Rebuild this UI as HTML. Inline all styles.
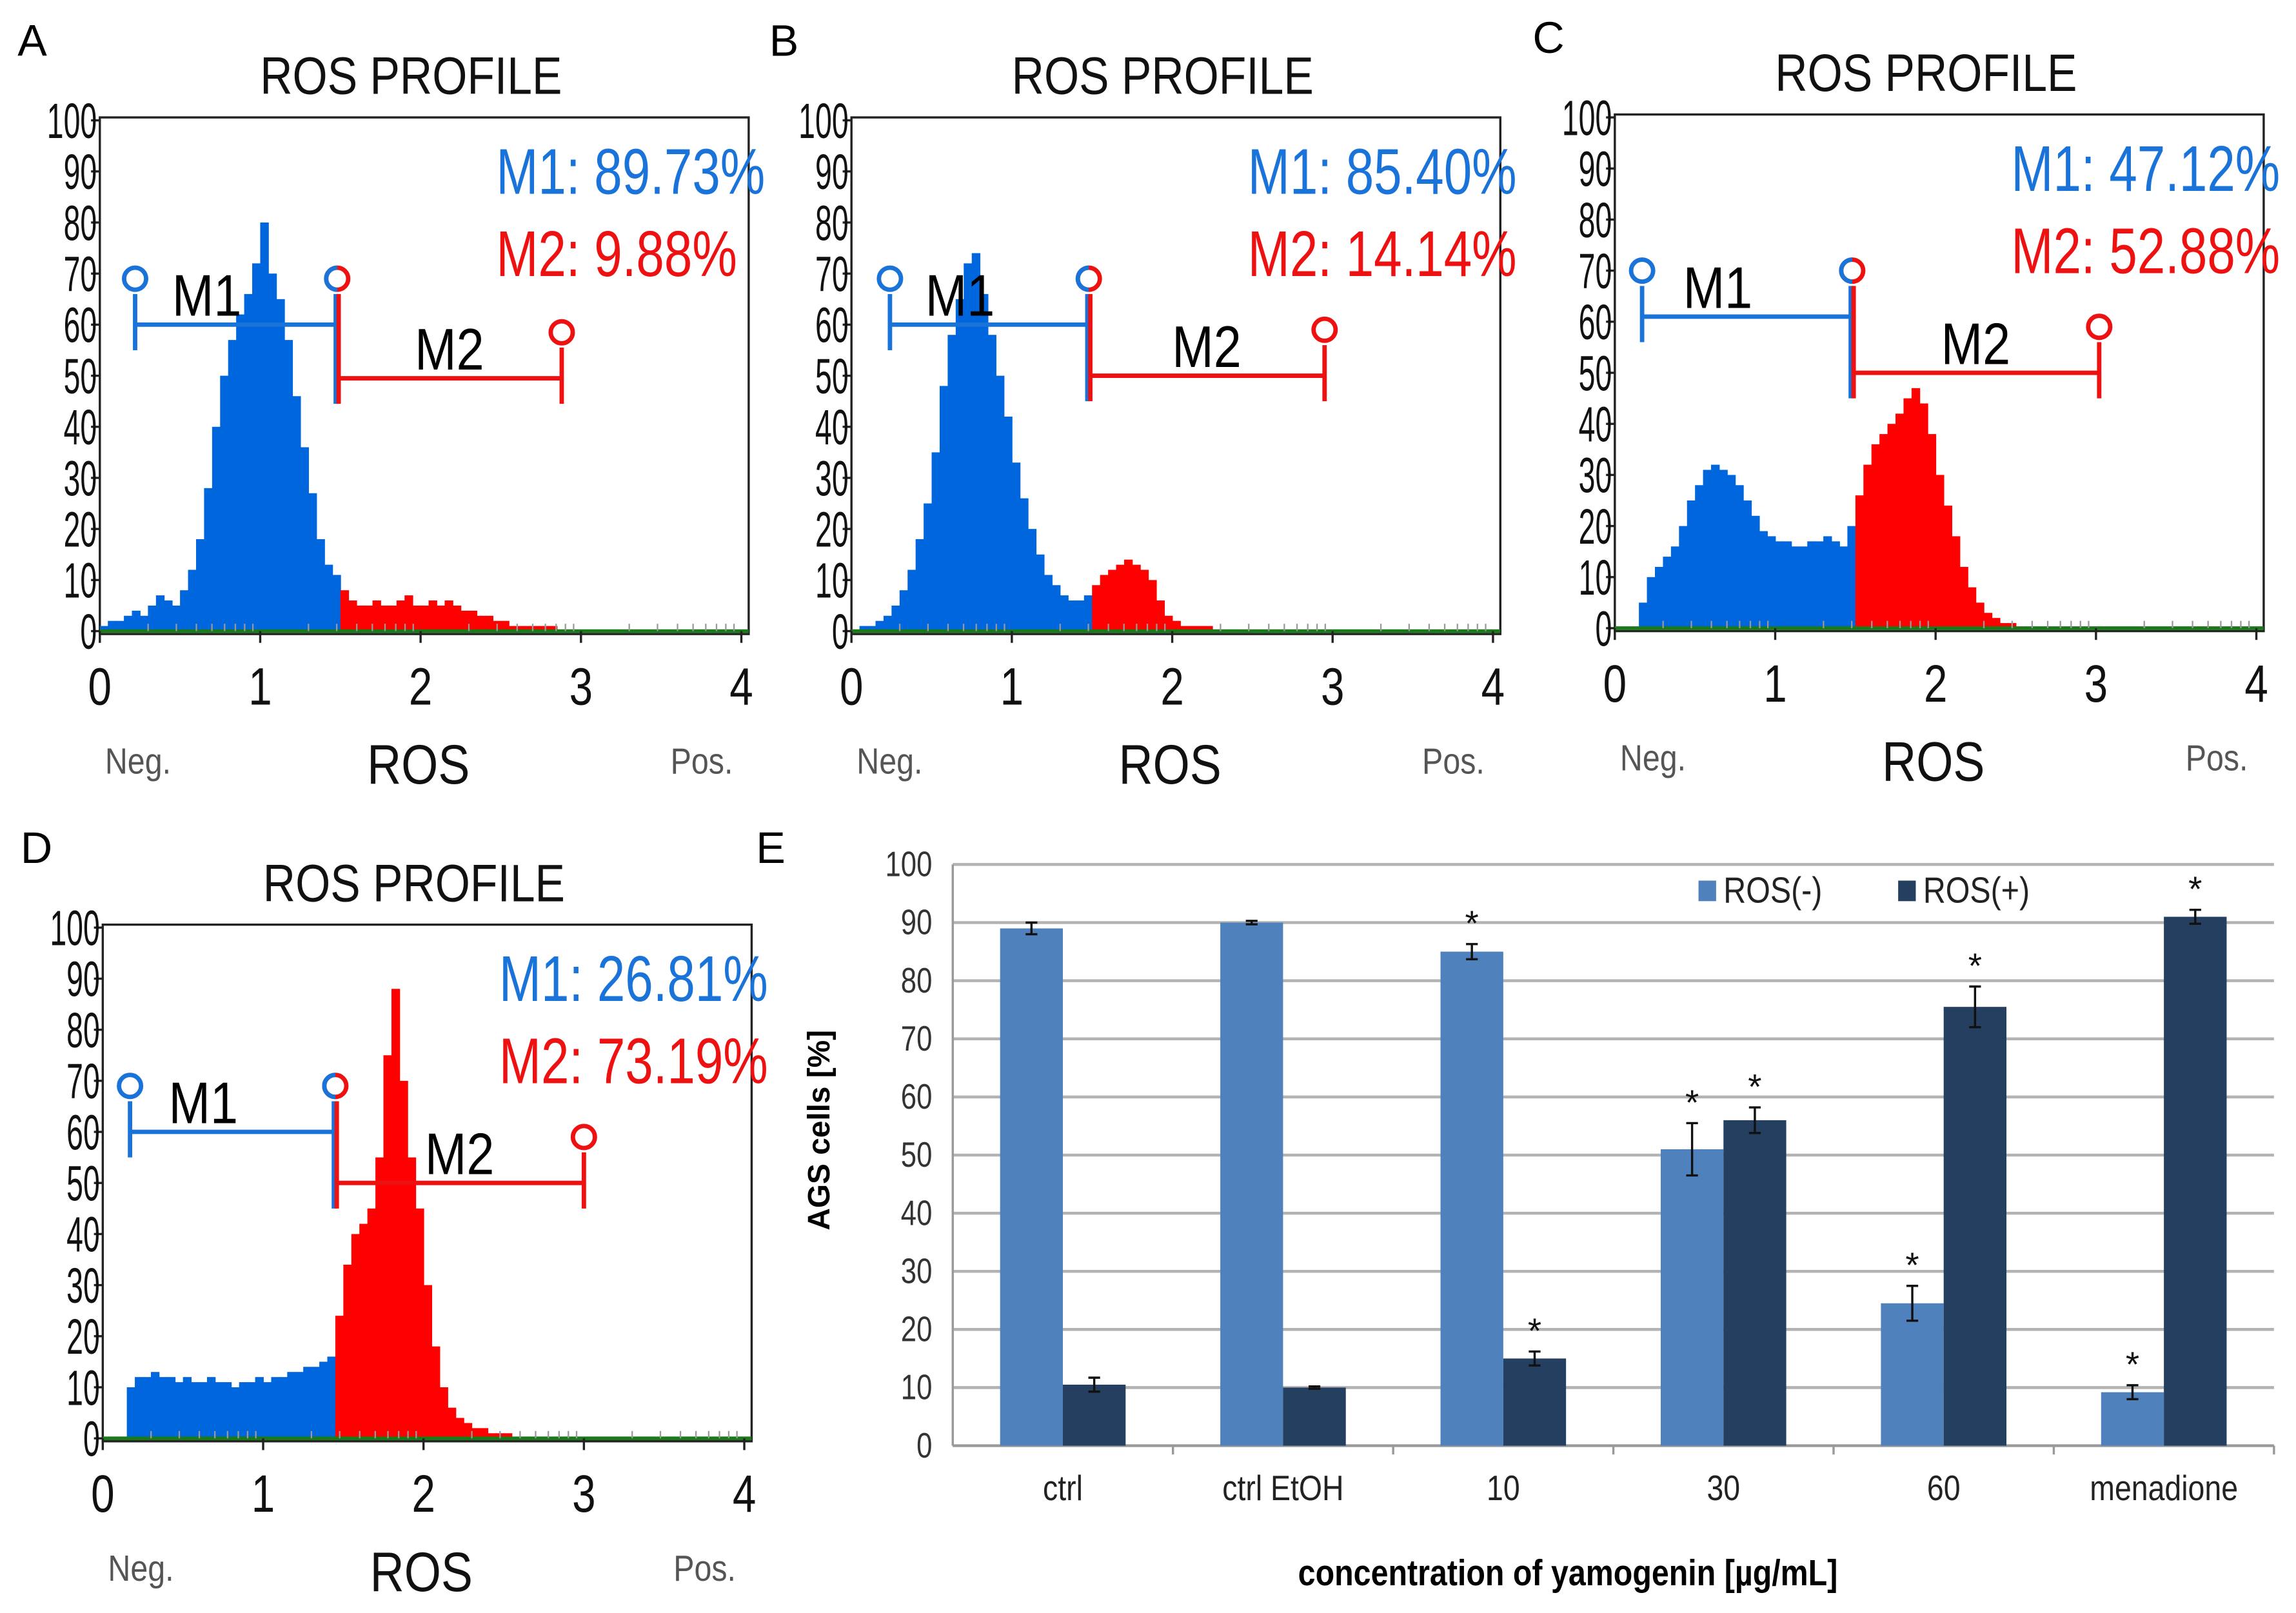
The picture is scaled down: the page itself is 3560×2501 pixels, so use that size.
<!DOCTYPE html>
<html><head><meta charset="utf-8">
<style>
html,body{margin:0;padding:0;background:#fff;}
svg{display:block;}
text{font-family:"Liberation Sans",sans-serif;}
.b{font-family:"Liberation Sans",sans-serif;font-weight:bold;}
</style></head>
<body>
<svg id="fig" xmlns="http://www.w3.org/2000/svg" width="3560" height="2501" viewBox="0 0 1564 1099" preserveAspectRatio="none"></svg>
<script>
// ---------- Histogram data (bin width 0.05, from 0 to 3.0) ----------
const histA = [1,2,2,3,4,3, 5,7,6,5,8,12, 18,28,40,50,57,62, 66,72,80,70,65,57, 46,36,27,18,13,11, 8,6,5,5,6,5, 5,6,7,5,5,6, 5,6,5,4,4,3, 3,2,2,1,1,1, 1,1,1,0,0,0];
const histB = [0,1,1,2,3,5, 8,12,18,25,35,48, 58,65,72,74,66,58, 50,42,33,26,20,15, 11,9,7,6,6,7, 9,11,12,13,14,13, 12,10,6,3,2,1, 1,1,1,0,0,0, 0,0,0,0,0,0, 0,0,0,0,0,0];
const histC = [0,0,0,5,10,12, 14,16,20,25,28,31, 32,31,30,28,25,22, 19,18,17,17,16,16, 17,17,18,17,16,20, 26,32,36,38,40,42, 45,47,44,38,30,24, 18,12,8,5,3,2, 1,1,0,0,0,0, 0,0,0,0,0,0];
const histD = [0,0,0,10,12,12, 13,12,12,11,12,11, 11,12,11,11,10,11, 11,12,11,12,12,13, 13,14,14,15,16,24, 34,40,42,45,55,75, 88,70,55,45,30,18, 10,6,4,3,2,2, 1,1,1,0,0,0, 0,0,0,0,0,0];
const gateM1 = [[0.22,1.48,60],[0.24,1.48,60],[0.17,1.48,61],[0.17,1.45,60]];
const gateM2 = [[1.48,2.88,49.5],[1.48,2.95,50],[1.48,3.02,50],[1.45,3.0,50]];
const pctM1 = ["89.73%","85.40%","47.12%","26.81%"];
const pctM2 = ["9.88%","14.14%","52.88%","73.19%"];
const histTicksY = [0,10,20,30,40,50,60,70,80,90,100];
const histTicksX = [0,1,2,3,4];

// ---------- Bar chart data ----------
const categories = ["ctrl","ctrl EtOH","10","30","60","menadione"];
const rosNeg = [89,90,85,51,24.5,9.2];
const rosNegErr = [1,0.3,1.3,4.5,3,1.2];
const rosPos = [10.5,10,15,56,75.5,91];
const rosPosErr = [1.2,0.2,1.2,2.2,3.5,1.2];
const starNeg = [false,false,true,true,true,true];
const starPos = [false,false,true,true,true,true];
const barTicksY = [0,10,20,30,40,50,60,70,80,90,100];

const NS="http://www.w3.org/2000/svg";
const svg=document.getElementById('fig');
function el(tag,attrs,parent,txt){const e=document.createElementNS(NS,tag);for(const k in attrs)e.setAttribute(k,attrs[k]);if(txt!==undefined)e.textContent=txt;(parent||svg).appendChild(e);return e;}
// narrow text: compressed horizontally
function nt(x,y,sc,attrs,parent,txt){const a=Object.assign({x:0,y:0,transform:'translate('+x+','+y+') scale('+sc+',1)'},attrs);return el('text',a,parent,txt);}

const panels=[
 {L:"A",x0:68,y0:430,yTop:82,hist:histA},
 {L:"B",x0:580,y0:430,yTop:82,hist:histB},
 {L:"C",x0:1100,y0:428,yTop:80,hist:histC},
 {L:"D",x0:70,y0:980,yTop:632,hist:histD}
];
const W=437;
panels.forEach((p,pi)=>{
  const g=el('g',{});
  
  
  const sx=v=>p.x0+v*W/4;
  const sy=v=>p.y0-(v/100)*(p.y0-p.yTop);
  const lt=el('text',{x:p.x0-56,y:p.yTop-44,'font-size':30,fill:'#000'},g,p.L);
  
  const tt=nt(p.x0+212,p.yTop-18,0.85,{'font-size':36,'text-anchor':'middle',fill:'#111'},g,"ROS PROFILE");
  
  const bx=el('rect',{x:p.x0,y:p.yTop-2,width:W+5,height:p.y0-p.yTop+4,fill:'none',stroke:'#222','stroke-width':1.5},g);
  
  const gate=gateM1[pi][1];
  p.hist.forEach((v,i)=>{
    if(v<=0)return;
    const a=i*0.05,b=a+0.05,c=a+0.025;
    const r=el('rect',{x:sx(a),y:sy(v),width:sx(b)-sx(a)+0.4,height:sy(0)-sy(v),fill:c<gate?'#0066dd':'#ff0000'},g);
    
  });
  el('line',{x1:p.x0,x2:p.x0+W+5,y1:p.y0,y2:p.y0,stroke:'#1a7a1a','stroke-width':2.5},g);
  histTicksY.forEach(t=>{
    el('line',{x1:p.x0-6,x2:p.x0,y1:sy(t),y2:sy(t),stroke:'#222','stroke-width':1.5},g);
    const tx=nt(p.x0-2,sy(t)+12,0.6,{'font-size':34,'text-anchor':'end',fill:'#111'},g,String(t));
    
  });
  histTicksX.forEach(t=>{
    el('line',{x1:sx(t),x2:sx(t),y1:p.y0,y2:p.y0+8,stroke:'#222','stroke-width':1.5},g);
    const tx=nt(sx(t),p.y0+50,0.8,{'font-size':36,'text-anchor':'middle',fill:'#111'},g,String(t));
    
    if(t<4)for(let k=2;k<10;k++){const xv=t+Math.log10(k);el('line',{x1:sx(xv),x2:sx(xv),y1:p.y0,y2:p.y0-5,stroke:'#999','stroke-width':1},g);}
  });
  const ng=nt(p.x0+26,p.y0+97,0.85,{'font-size':25,'text-anchor':'middle',fill:'#555'},g,"Neg.");
  
  const ps=nt(p.x0+410,p.y0+97,0.85,{'font-size':25,'text-anchor':'middle',fill:'#555'},g,"Pos.");
  
  const xl=nt(p.x0+217,p.y0+104,0.85,{'font-size':38,'text-anchor':'middle',fill:'#111'},g,"ROS");
  
  // gates
  const m1=gateM1[pi], m2=gateM2[pi];
  const g1=el('g',{},g);
  
  el('line',{x1:sx(m1[0]),x2:sx(m1[1]),y1:sy(m1[2]),y2:sy(m1[2]),stroke:'#1a73d9','stroke-width':3},g1);
  el('line',{x1:sx(m1[0]),x2:sx(m1[0]),y1:sy(m1[2]-5),y2:sy(m1[2]+6),stroke:'#1a73d9','stroke-width':3},g1);
  el('line',{x1:sx(m1[1])-1,x2:sx(m1[1])-1,y1:sy(m2[2]-5),y2:sy(m1[2]+6),stroke:'#1a73d9','stroke-width':3},g1);
  el('circle',{cx:sx(m1[0]),cy:sy(m1[2]+9),r:7.5,fill:'#fff',stroke:'#1a73d9','stroke-width':3},g1);
  el('circle',{cx:sx(m1[1]),cy:sy(m1[2]+9),r:7.5,fill:'#fff',stroke:'#ee1111','stroke-width':3},g1);
  el('path',{d:'M'+sx(m1[1])+' '+(sy(m1[2]+9)-7.5)+' A7.5 7.5 0 0 0 '+sx(m1[1])+' '+(sy(m1[2]+9)+7.5),fill:'none',stroke:'#1a73d9','stroke-width':3},g1);
  const l1=nt(sx((m1[0]+m1[1])/2)-20,sy(m1[2])-6,0.85,{'font-size':40,'text-anchor':'middle',fill:'#000'},g1,"M1");
  
  const g2=el('g',{},g);
  
  el('line',{x1:sx(m2[0]),x2:sx(m2[1]),y1:sy(m2[2]),y2:sy(m2[2]),stroke:'#ee1111','stroke-width':3},g2);
  el('line',{x1:sx(m2[0])+1,x2:sx(m2[0])+1,y1:sy(m2[2]-5),y2:sy(m1[2]+6),stroke:'#ee1111','stroke-width':3},g2);
  el('line',{x1:sx(m2[1]),x2:sx(m2[1]),y1:sy(m2[2]-5),y2:sy(m2[2]+6),stroke:'#ee1111','stroke-width':3},g2);
  el('circle',{cx:sx(m2[1]),cy:sy(m2[2]+9),r:7.5,fill:'#fff',stroke:'#ee1111','stroke-width':3},g2);
  const l2=nt(sx((m2[0]+m2[1])/2),sy(m2[2])-6,0.85,{'font-size':40,'text-anchor':'middle',fill:'#000'},g2,"M2");
  
  const t1=nt(p.x0+270,p.yTop+50,0.78,{'font-size':44,fill:'#1a73d9'},g,"M1: "+pctM1[pi]);
  
  const t2=nt(p.x0+270,p.yTop+106,0.78,{'font-size':44,fill:'#ee1111'},g,"M2: "+pctM2[pi]);
  
});

// ---------- Bar chart E ----------
const bg=el('g',{});


const L=649,R=1549,Y0=985,Y100=589;
const by=v=>Y0-(v/100)*(Y0-Y100);
const gw=(R-L)/categories.length;
const le=el('text',{x:515,y:588,'font-size':30,fill:'#000'},bg,"E");

barTicksY.forEach(t=>{
  const gl=el('line',{x1:L,x2:R,y1:by(t),y2:by(t),stroke:'#b3b3b3','stroke-width':2},bg);
  
  const tx=nt(L-14,by(t)+8,0.8,{'font-size':24,'text-anchor':'end',fill:'#333'},bg,String(t));
  
});
el('line',{x1:L,x2:L,y1:Y100,y2:Y0,stroke:'#999','stroke-width':1.5},bg);
el('line',{x1:L,x2:R,y1:Y0,y2:Y0,stroke:'#999','stroke-width':1.5},bg);
const bw=gw*0.285;
function errbar(cx,v,e){
  el('line',{x1:cx,x2:cx,y1:by(v+e),y2:by(v-e),stroke:'#111','stroke-width':1.5},bg);
  el('line',{x1:cx-4,x2:cx+4,y1:by(v+e),y2:by(v+e),stroke:'#111','stroke-width':1.5},bg);
  el('line',{x1:cx-4,x2:cx+4,y1:by(v-e),y2:by(v-e),stroke:'#111','stroke-width':1.5},bg);
}
categories.forEach((c,i)=>{
  const cx=L+gw*(i+0.5);
  el('line',{x1:L+gw*(i+1),x2:L+gw*(i+1),y1:Y0,y2:Y0+6,stroke:'#999','stroke-width':1.5},bg);
  const r1=el('rect',{x:cx-bw,y:by(rosNeg[i]),width:bw,height:Y0-by(rosNeg[i]),fill:'#4f81bd'},bg);
  
  const r2=el('rect',{x:cx,y:by(rosPos[i]),width:bw,height:Y0-by(rosPos[i]),fill:'#243f60'},bg);
  
  errbar(cx-bw/2,rosNeg[i],rosNegErr[i]);
  errbar(cx+bw/2,rosPos[i],rosPosErr[i]);
  if(starNeg[i]){const s=el('text',{x:cx-bw/2,y:by(rosNeg[i]+rosNegErr[i])-6,'font-size':24,'text-anchor':'middle',fill:'#111'},bg,"*");}
  if(starPos[i]){const s=el('text',{x:cx+bw/2,y:by(rosPos[i]+rosPosErr[i])-6,'font-size':24,'text-anchor':'middle',fill:'#111'},bg,"*");}
  const cl=nt(cx,1022,0.85,{'font-size':24,'text-anchor':'middle',fill:'#222'},bg,c);
  
});
const yt=el('text',{x:0,y:0,'font-size':21,'text-anchor':'middle',fill:'#000',transform:'translate(565,770) rotate(-90)',class:'b'},bg,"AGS cells [%]");

const xt=nt(1068,1080,0.85,{'font-size':25,'text-anchor':'middle',fill:'#000',class:'b'},bg,"concentration of yamogenin [µg/mL]");

const lg=el('g',{},bg);

el('rect',{x:1157,y:600,width:12,height:14,fill:'#4f81bd'},lg);
const lg1=nt(1174,615,0.85,{'font-size':25,fill:'#222'},lg,"ROS(-)");

el('rect',{x:1293,y:600,width:12,height:14,fill:'#243f60'},lg);
const lg2=nt(1310,615,0.85,{'font-size':25,fill:'#222'},lg,"ROS(+)");

</script>
</body></html>
